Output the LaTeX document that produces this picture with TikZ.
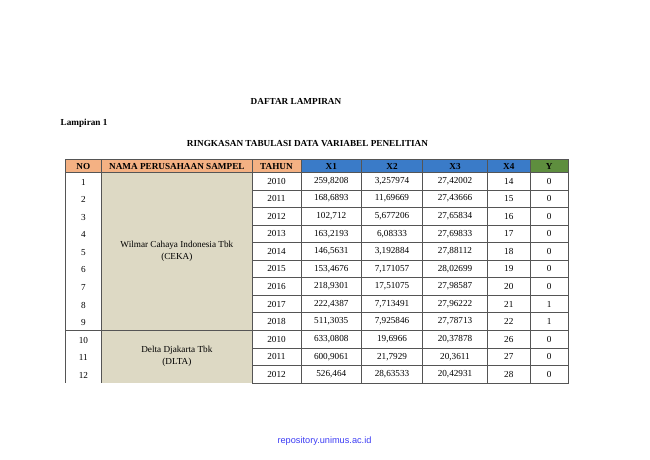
\documentclass[tikz,border=0pt]{standalone}
\usepackage{fontspec}
\setmainfont{Liberation Serif}
\newfontfamily\repofont{Liberation Sans}
\definecolor{headOrange}{HTML}{F4B183}
\definecolor{headBlue}{HTML}{3A7BC8}
\definecolor{headGreen}{HTML}{5E8E3E}
\definecolor{nameFill}{HTML}{DDD9C4}
\definecolor{gridGray}{HTML}{555555}
\definecolor{linkBlue}{HTML}{3D3DF5}

\begin{document}
\begin{tikzpicture}
[x=1pt,y=-1pt,%
  headCell/.style={draw=gridGray,line width=0.8pt,minimum height=12.5,inner sep=0pt,font=\bfseries},%
  dataCell/.style={draw=gridGray,line width=0.6pt,fill=white,minimum height=17.56,inner sep=0pt},%
  gridLine/.style={draw=gridGray,line width=0.8pt},%
  titleText/.style={inner sep=0pt,font=\bfseries}]
\fontsize{9.2}{12}\selectfont
\useasboundingbox[fill=white] (0,0) rectangle (650,459);
%% titles
\node[titleText] (daftar) at (296,101) {DAFTAR LAMPIRAN};
\node[titleText,anchor=west] (lampiran) at (60.5,123) {Lampiran 1};
\node[titleText] (judul) at (307.5,144) {RINGKASAN TABULASI DATA VARIABEL PENELITIAN};
%% company blocks
\fill[nameFill] (101.7,172.3) rectangle (252,383);
\path[gridLine] (65,172.3) -- (65,383) (101.7,172.3) -- (101.7,383);
\path[gridLine,line width=1.2pt] (65,330.3) -- (252,330.3);
\node[align=center] (ceka) at (176.85,251.3) {Wilmar Cahaya Indonesia Tbk\\(CEKA)};
\node[align=center] (dlta) at (176.85,356.4) {Delta Djakarta Tbk\\(DLTA)};
%% header row
\foreach \cellname/\xa/\xb/\shade/\label in {
  hNo/65/101.7/headOrange/NO, hNama/101.7/252/headOrange/NAMA PERUSAHAAN SAMPEL,
  hTahun/252/301/headOrange/TAHUN, hXa/301/361.5/headBlue/X1,
  hXb/361.5/422.5/headBlue/X2, hXc/422.5/487.5/headBlue/X3,
  hXd/487.5/530/headBlue/X4, hY/530/568.3/headGreen/Y}
{
  \node[headCell,fill=\shade,minimum width={\xb-\xa}] (\cellname) at ({(\xa+\xb)/2},166) {\label};
}
%% data rows
\foreach \k/\yr/\va/\vb/\vc/\vd/\ve in {
  1/2010/{259,8208}/{3,257974}/{27,42002}/14/0,
  2/2011/{168,6893}/{11,69669}/{27,43666}/15/0,
  3/2012/{102,712}/{5,677206}/{27,65834}/16/0,
  4/2013/{163,2193}/{6,08333}/{27,69833}/17/0,
  5/2014/{146,5631}/{3,192884}/{27,88112}/18/0,
  6/2015/{153,4676}/{7,171057}/{28,02699}/19/0,
  7/2016/{218,9301}/{17,51075}/{27,98587}/20/0,
  8/2017/{222,4387}/{7,713491}/{27,96222}/21/1,
  9/2018/{511,3035}/{7,925846}/{27,78713}/22/1,
  10/2010/{633,0808}/{19,6966}/{20,37878}/26/0,
  11/2011/{600,9061}/{21,7929}/{20,3611}/27/0,
  12/2012/{526,464}/{28,63533}/{20,42931}/28/0}
{
  \pgfmathsetmacro\rowy{172.3+(\k-0.5)*17.56}
  \node[inner sep=0pt] (no\k) at (83.35,\rowy+1) {\k};
  \node[dataCell,minimum width=49] (tahun\k) at (276.5,\rowy) {\yr};
  \node[dataCell,minimum width=60.5] (xa\k) at (331.25,\rowy) {\va};
  \node[dataCell,minimum width=61] (xb\k) at (392,\rowy) {\vb};
  \node[dataCell,minimum width=65] (xc\k) at (455,\rowy) {\vc};
  \node[dataCell,minimum width=42.5] (xd\k) at (508.75,\rowy) {\vd};
  \node[dataCell,minimum width=38.3] (yv\k) at (549.15,\rowy) {\ve};
}
%% footer
\node[font=\repofont,text=linkBlue] (repo) at (324.5,441) {repository.unimus.ac.id};
\end{tikzpicture}
\end{document}
